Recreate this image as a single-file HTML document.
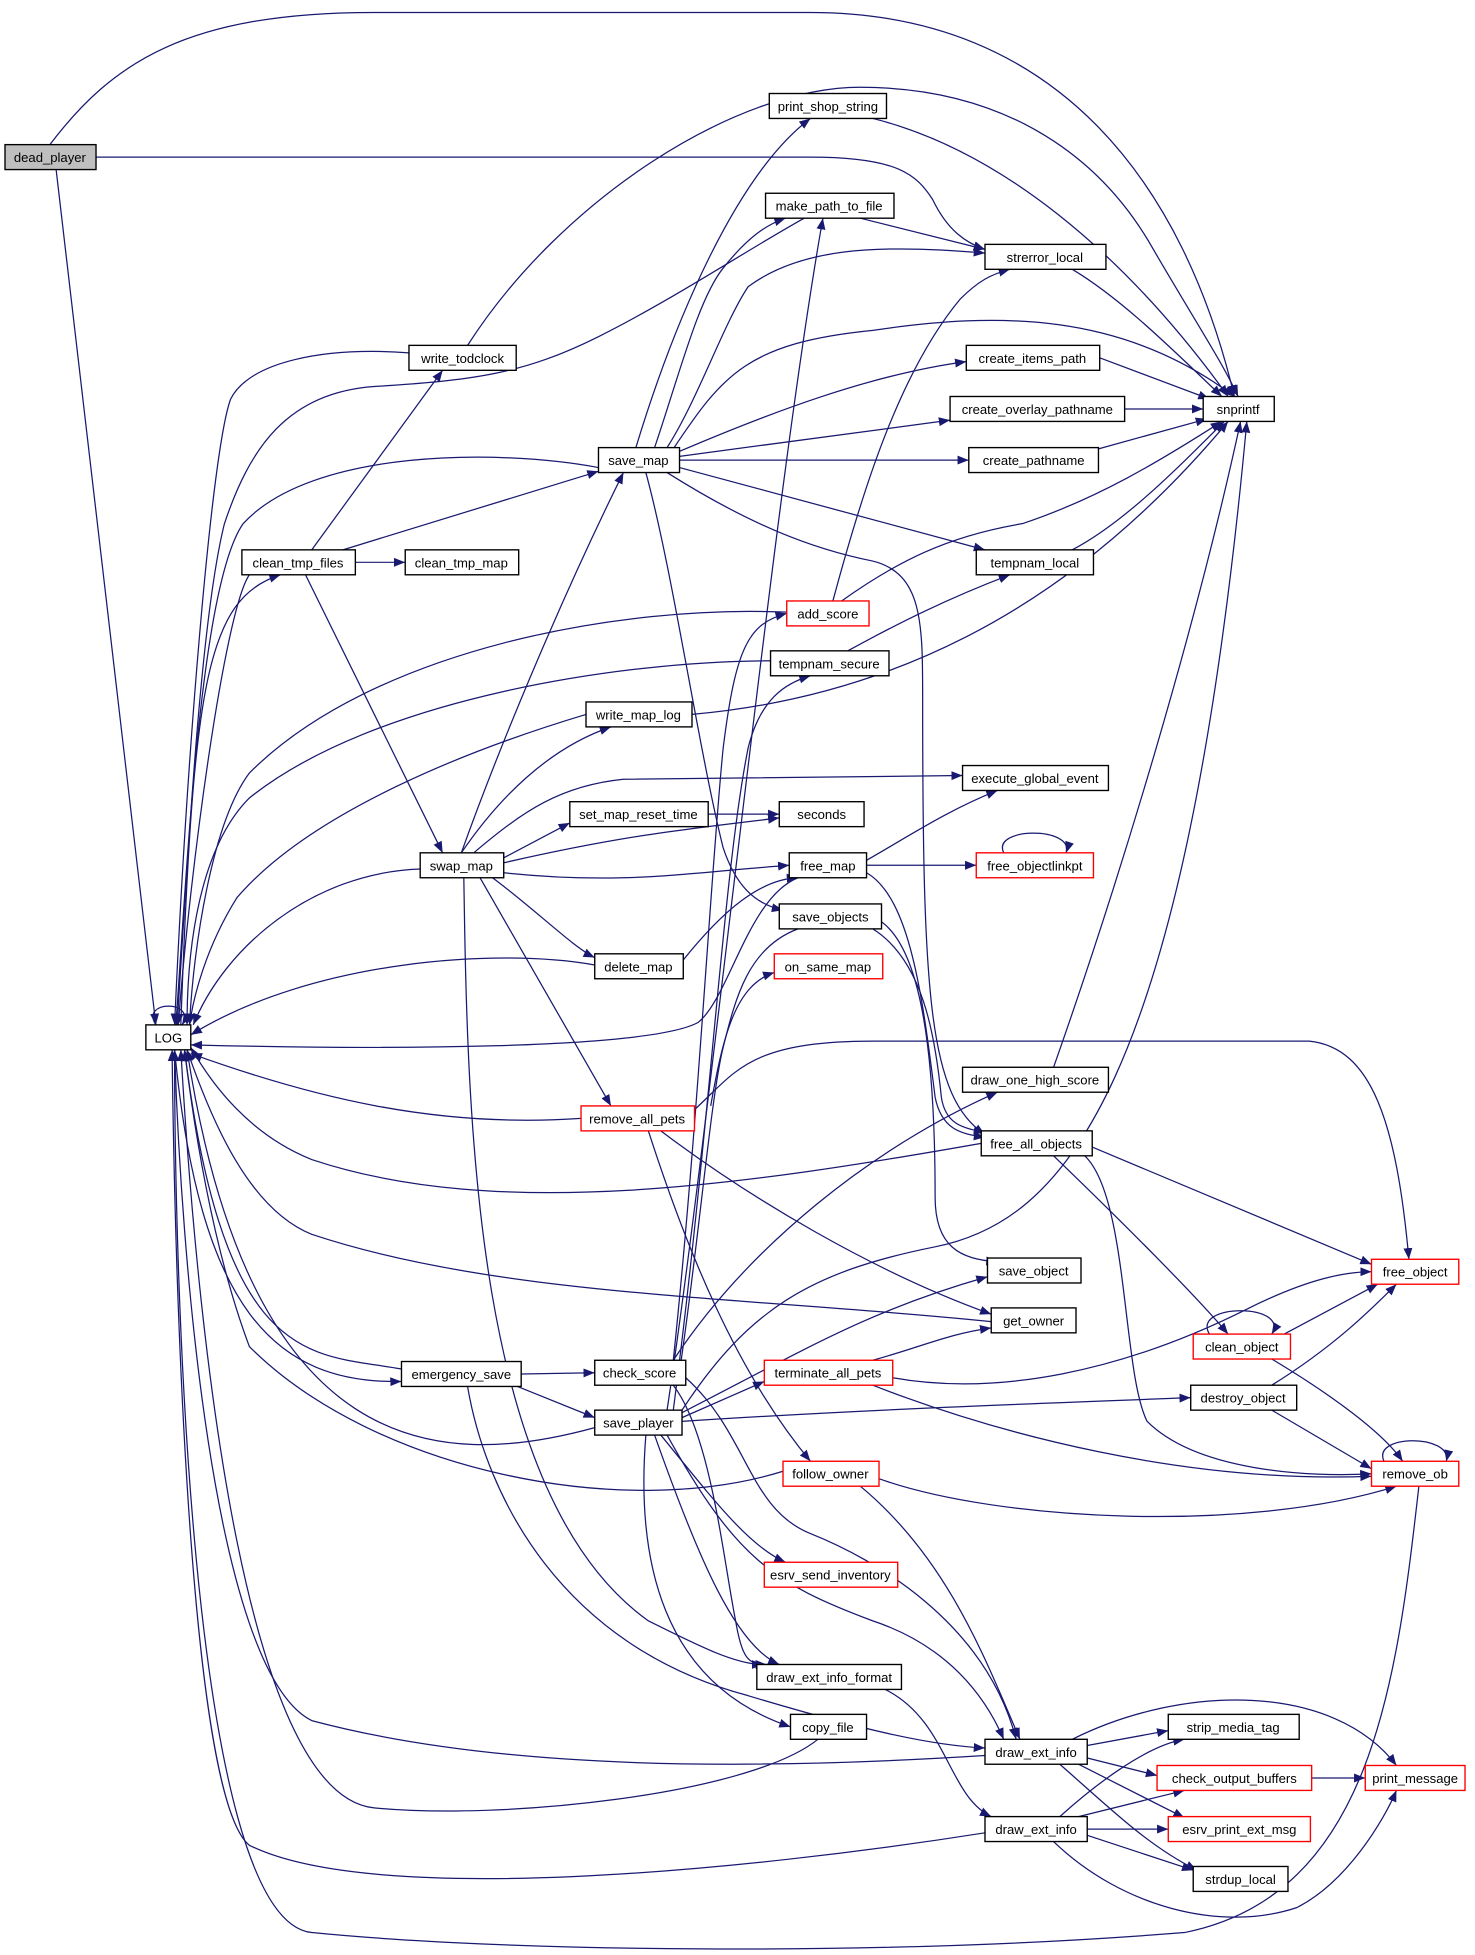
<!DOCTYPE html>
<html><head><meta charset="utf-8"><style>
html,body{margin:0;padding:0;background:#fff;}
svg{display:block;}
text{font-family:"Liberation Sans",Arial,sans-serif;font-size:10.5px;fill:#000;text-anchor:middle;}
.e{fill:none;stroke:#191970;stroke-width:1;}
.n{fill:#fff;stroke:#000;stroke-width:1.1;}
.r{fill:#fff;stroke:#ff0000;stroke-width:1.1;}
</style></head><body>
<svg width="1475" height="1955" viewBox="0 0 1183 1568" xmlns="http://www.w3.org/2000/svg">
<defs><marker id="a" viewBox="0 0 10 10" refX="10" refY="5" markerWidth="9" markerHeight="9" markerUnits="userSpaceOnUse" orient="auto"><path d="M0,1 L10,5 L0,9 z" fill="#191970"/></marker></defs>
<g marker-end="url(#a)">
<path class="e" d="M40,116 C90,50 150,10 300,10 L650,10 C850,10 950,150 990,318"/>
<path class="e" d="M77,126 L650,126 C720,126 735,140 748,160 C760,185 775,195 790,200"/>
<path class="e" d="M45,136 L125,822"/>
<path class="e" d="M125,822 C112,802 158,802 146,822"/>
<path class="e" d="M375,277 C450,160 590,70 690,70 C800,70 880,120 925,200 C960,260 980,290 993,318"/>
<path class="e" d="M328,283 C260,278 200,290 185,320 C170,360 150,600 140,822"/>
<path class="e" d="M250,441 L355,297"/>
<path class="e" d="M285,451 L325,451"/>
<path class="e" d="M275,441 L480,378"/>
<path class="e" d="M245,461 L355,684"/>
<path class="e" d="M200,461 C180,490 152,700 143,822"/>
<path class="e" d="M145,822 C155,550 165,480 225,461"/>
<path class="e" d="M480,375 C400,360 250,360 195,420 C160,470 150,700 141,822"/>
<path class="e" d="M510,359 C540,260 590,140 650,95"/>
<path class="e" d="M525,359 C545,300 560,240 580,215 C600,190 615,180 630,175"/>
<path class="e" d="M690,175 L790,200"/>
<path class="e" d="M645,175 C600,200 540,240 480,270 C420,300 380,305 300,310 C230,315 200,360 180,420 C160,500 150,700 142,822"/>
<path class="e" d="M535,359 C560,320 580,260 600,230 C640,200 700,195 790,203"/>
<path class="e" d="M540,360 C580,300 600,275 700,265 C800,250 900,250 990,318"/>
<path class="e" d="M545,362 C620,330 700,300 775,290"/>
<path class="e" d="M545,366 L762,337"/>
<path class="e" d="M545,369 L777,369"/>
<path class="e" d="M545,375 L790,441"/>
<path class="e" d="M535,379 C600,420 650,440 700,450 C740,460 740,500 740,560 C740,800 745,880 790,910"/>
<path class="e" d="M518,379 C540,460 560,600 580,680 C590,710 605,725 628,730"/>
<path class="e" d="M882,287 L970,320"/>
<path class="e" d="M902,328 L965,328"/>
<path class="e" d="M881,360 L968,336"/>
<path class="e" d="M860,216 C900,240 940,280 980,318"/>
<path class="e" d="M700,95 C800,120 900,200 985,318"/>
<path class="e" d="M860,441 C900,420 940,380 982,338"/>
<path class="e" d="M680,522 C720,500 760,480 810,461"/>
<path class="e" d="M618,530 C500,530 300,560 200,640 C160,680 150,760 150,822"/>
<path class="e" d="M668,482 C690,400 720,300 770,240 C785,225 795,220 810,216"/>
<path class="e" d="M675,482 C720,450 760,430 820,420 C880,400 930,370 980,338"/>
<path class="e" d="M631,491 C500,485 300,520 200,620 C170,660 155,760 152,822"/>
<path class="e" d="M555,573 C700,560 850,500 985,338"/>
<path class="e" d="M470,573 C380,600 250,650 190,720 C165,760 155,800 152,822"/>
<path class="e" d="M370,684 C400,640 440,600 490,583"/>
<path class="e" d="M380,684 C420,650 450,630 500,625 L772,622"/>
<path class="e" d="M404,688 L457,660"/>
<path class="e" d="M404,692 C500,670 550,665 625,656"/>
<path class="e" d="M568,653 L625,653"/>
<path class="e" d="M404,700 C500,710 550,700 633,694"/>
<path class="e" d="M395,704 C430,730 460,760 477,768"/>
<path class="e" d="M385,704 L490,887"/>
<path class="e" d="M370,684 C400,600 450,480 500,379"/>
<path class="e" d="M372,704 C375,900 380,1200 520,1300 C560,1320 590,1335 612,1335"/>
<path class="e" d="M337,697 C250,700 180,760 155,822"/>
<path class="e" d="M548,770 C580,730 610,705 640,704"/>
<path class="e" d="M477,774 C400,760 250,770 153,830"/>
<path class="e" d="M695,690 C730,670 760,650 800,634"/>
<path class="e" d="M695,694 L783,694"/>
<path class="e" d="M695,700 C730,720 740,800 750,880 C755,905 770,910 790,912"/>
<path class="e" d="M640,704 C600,720 585,800 560,820 C520,842 300,842 153,838"/>
<path class="e" d="M805,684 C795,663 862,663 855,684"/>
<path class="e" d="M700,745 C740,770 750,830 755,880 C758,900 770,905 790,908"/>
<path class="e" d="M640,745 C600,760 590,800 580,840 C570,880 560,1000 545,1100"/>
<path class="e" d="M705,738 C740,760 750,850 750,960 C750,1000 770,1010 800,1012"/>
<path class="e" d="M845,856 C900,700 960,500 995,338"/>
<path class="e" d="M540,1091 C600,1000 700,920 800,876"/>
<path class="e" d="M540,1091 C560,900 570,700 580,600 C590,520 600,500 631,492"/>
<path class="e" d="M540,1111 C570,1150 580,1250 590,1300 C595,1330 600,1335 615,1335"/>
<path class="e" d="M550,1105 C600,1150 600,1210 650,1230 C700,1250 790,1300 815,1395"/>
<path class="e" d="M466,897 C350,905 250,880 153,845"/>
<path class="e" d="M570,887 C580,830 590,790 621,780"/>
<path class="e" d="M557,890 C590,860 600,835 700,835 L1050,835 C1100,840 1120,900 1130,1010"/>
<path class="e" d="M530,907 C600,960 700,1020 795,1054"/>
<path class="e" d="M520,907 C550,1000 590,1100 650,1172"/>
<path class="e" d="M787,917 C600,950 400,980 250,930 C200,910 170,870 153,840"/>
<path class="e" d="M876,920 L1100,1014"/>
<path class="e" d="M845,927 C900,980 960,1040 985,1070"/>
<path class="e" d="M870,927 C905,960 900,1100 920,1140 C960,1180 1050,1185 1100,1182"/>
<path class="e" d="M795,1060 C600,1040 400,1040 250,990 C200,970 170,900 150,842"/>
<path class="e" d="M970,1070 C955,1045 1035,1045 1020,1070"/>
<path class="e" d="M1030,1070 L1105,1030"/>
<path class="e" d="M1020,1090 C1070,1120 1110,1150 1125,1172"/>
<path class="e" d="M418,1102 L477,1101"/>
<path class="e" d="M410,1110 L477,1137"/>
<path class="e" d="M322,1098 C250,1085 180,1100 148,842"/>
<path class="e" d="M140,842 C160,1050 220,1110 322,1108"/>
<path class="e" d="M375,1112 C390,1200 450,1320 600,1360 C700,1390 750,1400 790,1402"/>
<path class="e" d="M477,1145 C350,1180 200,1170 150,842"/>
<path class="e" d="M547,1137 L613,1108"/>
<path class="e" d="M547,1133 C650,1080 700,1050 792,1024"/>
<path class="e" d="M547,1131 C600,1050 650,1020 750,1000 C850,980 950,880 1000,338"/>
<path class="e" d="M535,1131 C570,900 620,400 660,175"/>
<path class="e" d="M540,1131 C570,900 580,700 600,600 C610,560 630,548 650,542"/>
<path class="e" d="M547,1140 C700,1130 850,1125 955,1121"/>
<path class="e" d="M530,1151 C570,1200 600,1240 630,1253"/>
<path class="e" d="M525,1151 C560,1250 590,1320 625,1335"/>
<path class="e" d="M518,1151 C510,1250 530,1350 634,1385"/>
<path class="e" d="M535,1151 C590,1250 620,1270 700,1300 C760,1320 790,1360 805,1395"/>
<path class="e" d="M700,1091 C740,1080 760,1070 795,1065"/>
<path class="e" d="M716,1105 C800,1120 900,1100 1000,1050 C1050,1025 1080,1020 1100,1020"/>
<path class="e" d="M700,1111 C800,1150 950,1190 1100,1184"/>
<path class="e" d="M1020,1131 L1100,1178"/>
<path class="e" d="M1020,1111 C1070,1080 1100,1050 1120,1030"/>
<path class="e" d="M1110,1172 C1100,1150 1165,1150 1160,1172"/>
<path class="e" d="M1138,1192 C1120,1350 1100,1520 950,1550 C700,1570 400,1565 250,1550 C150,1540 140,1000 140,842"/>
<path class="e" d="M628,1180 C500,1220 300,1180 200,1080 C170,1000 155,900 148,842"/>
<path class="e" d="M705,1186 C800,1220 1000,1230 1120,1192"/>
<path class="e" d="M690,1192 C760,1250 790,1330 818,1395"/>
<path class="e" d="M710,1355 C760,1380 760,1440 795,1457"/>
<path class="e" d="M656,1395 C600,1440 400,1460 300,1450 C200,1440 160,1100 145,842"/>
<path class="e" d="M790,1408 C600,1420 400,1420 250,1380 C170,1340 145,1000 140,842"/>
<path class="e" d="M872,1400 L937,1388"/>
<path class="e" d="M872,1410 L928,1424"/>
<path class="e" d="M865,1415 L950,1458"/>
<path class="e" d="M850,1415 C890,1450 920,1480 960,1500"/>
<path class="e" d="M860,1395 C950,1350 1070,1350 1120,1416"/>
<path class="e" d="M790,1470 C600,1500 300,1530 200,1480 C150,1440 140,1000 138,842"/>
<path class="e" d="M850,1457 C880,1430 920,1400 950,1395"/>
<path class="e" d="M865,1457 L950,1436"/>
<path class="e" d="M872,1467 L937,1467"/>
<path class="e" d="M872,1472 L957,1500"/>
<path class="e" d="M845,1477 C900,1530 980,1550 1040,1530 C1080,1510 1110,1460 1120,1436"/>
<path class="e" d="M1052,1426 L1095,1426"/>
</g>
<g>
<rect x="4" y="116" width="73" height="20" fill="#bfbfbf" stroke="#000" stroke-width="1.1"/><text x="40" y="130">dead_player</text>
<rect class="n" x="117" y="822" width="36" height="20"/><text x="135" y="836">LOG</text>
<rect class="n" x="328" y="277" width="86" height="20"/><text x="371" y="291">write_todclock</text>
<rect class="n" x="194" y="441" width="91" height="20"/><text x="239" y="455">clean_tmp_files</text>
<rect class="n" x="325" y="441" width="91" height="20"/><text x="370" y="455">clean_tmp_map</text>
<rect class="n" x="480" y="359" width="65" height="20"/><text x="512" y="373">save_map</text>
<rect class="n" x="617" y="75" width="94" height="20"/><text x="664" y="89">print_shop_string</text>
<rect class="n" x="614" y="155" width="103" height="20"/><text x="665" y="169">make_path_to_file</text>
<rect class="n" x="790" y="196" width="97" height="20"/><text x="838" y="210">strerror_local</text>
<rect class="n" x="775" y="277" width="107" height="20"/><text x="828" y="291">create_items_path</text>
<rect class="n" x="762" y="318" width="140" height="20"/><text x="832" y="332">create_overlay_pathname</text>
<rect class="n" x="777" y="359" width="104" height="20"/><text x="829" y="373">create_pathname</text>
<rect class="n" x="965" y="318" width="57" height="20"/><text x="993" y="332">snprintf</text>
<rect class="n" x="783" y="441" width="94" height="20"/><text x="830" y="455">tempnam_local</text>
<rect class="r" x="631" y="482" width="66" height="20"/><text x="664" y="496">add_score</text>
<rect class="n" x="618" y="522" width="95" height="20"/><text x="665" y="536">tempnam_secure</text>
<rect class="n" x="470" y="563" width="85" height="20"/><text x="512" y="577">write_map_log</text>
<rect class="n" x="772" y="614" width="117" height="20"/><text x="830" y="628">execute_global_event</text>
<rect class="n" x="457" y="643" width="111" height="20"/><text x="512" y="657">set_map_reset_time</text>
<rect class="n" x="625" y="643" width="68" height="20"/><text x="659" y="657">seconds</text>
<rect class="n" x="337" y="684" width="67" height="20"/><text x="370" y="698">swap_map</text>
<rect class="n" x="633" y="684" width="62" height="20"/><text x="664" y="698">free_map</text>
<rect class="r" x="783" y="684" width="94" height="20"/><text x="830" y="698">free_objectlinkpt</text>
<rect class="n" x="625" y="725" width="82" height="20"/><text x="666" y="739">save_objects</text>
<rect class="n" x="477" y="765" width="71" height="20"/><text x="512" y="779">delete_map</text>
<rect class="r" x="621" y="765" width="87" height="20"/><text x="664" y="779">on_same_map</text>
<rect class="n" x="772" y="856" width="117" height="20"/><text x="830" y="870">draw_one_high_score</text>
<rect class="r" x="466" y="887" width="91" height="20"/><text x="511" y="901">remove_all_pets</text>
<rect class="n" x="787" y="907" width="89" height="20"/><text x="831" y="921">free_all_objects</text>
<rect class="n" x="792" y="1009" width="75" height="20"/><text x="829" y="1023">save_object</text>
<rect class="r" x="1100" y="1010" width="70" height="20"/><text x="1135" y="1024">free_object</text>
<rect class="n" x="795" y="1049" width="68" height="20"/><text x="829" y="1063">get_owner</text>
<rect class="r" x="957" y="1070" width="78" height="20"/><text x="996" y="1084">clean_object</text>
<rect class="n" x="322" y="1092" width="96" height="20"/><text x="370" y="1106">emergency_save</text>
<rect class="n" x="477" y="1091" width="73" height="20"/><text x="513" y="1105">check_score</text>
<rect class="r" x="613" y="1091" width="103" height="20"/><text x="664" y="1105">terminate_all_pets</text>
<rect class="n" x="955" y="1111" width="85" height="20"/><text x="997" y="1125">destroy_object</text>
<rect class="n" x="477" y="1131" width="70" height="20"/><text x="512" y="1145">save_player</text>
<rect class="r" x="1100" y="1172" width="70" height="20"/><text x="1135" y="1186">remove_ob</text>
<rect class="r" x="628" y="1172" width="77" height="20"/><text x="666" y="1186">follow_owner</text>
<rect class="r" x="613" y="1253" width="107" height="20"/><text x="666" y="1267">esrv_send_inventory</text>
<rect class="n" x="607" y="1335" width="116" height="20"/><text x="665" y="1349">draw_ext_info_format</text>
<rect class="n" x="634" y="1375" width="61" height="20"/><text x="664" y="1389">copy_file</text>
<rect class="n" x="937" y="1375" width="105" height="20"/><text x="989" y="1389">strip_media_tag</text>
<rect class="n" x="790" y="1395" width="82" height="20"/><text x="831" y="1409">draw_ext_info</text>
<rect class="r" x="928" y="1416" width="124" height="20"/><text x="990" y="1430">check_output_buffers</text>
<rect class="r" x="1095" y="1416" width="80" height="20"/><text x="1135" y="1430">print_message</text>
<rect class="n" x="790" y="1457" width="82" height="20"/><text x="831" y="1471">draw_ext_info</text>
<rect class="r" x="937" y="1457" width="114" height="20"/><text x="994" y="1471">esrv_print_ext_msg</text>
<rect class="n" x="957" y="1497" width="76" height="20"/><text x="995" y="1511">strdup_local</text>
</g>
</svg>
</body></html>
